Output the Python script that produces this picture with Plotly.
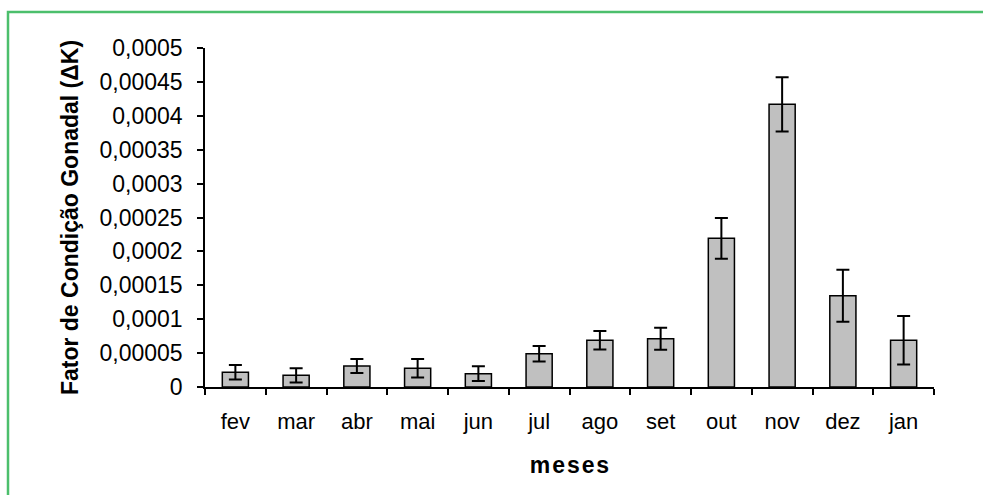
import plotly.graph_objects as go

# Monthly gonadal condition factor (mean ± error)
months = ["fev", "mar", "abr", "mai", "jun", "jul", "ago", "set", "out", "nov", "dez", "jan"]
delta_k = [0.0000217, 0.0000172, 0.000031, 0.0000276, 0.0000196, 0.0000491,
           0.0000689, 0.0000712, 0.0002193, 0.000417, 0.0001347, 0.0000689]
errors = [0.0000107, 0.0000104, 0.0000103, 0.0000137, 0.0000109, 0.0000114,
          0.0000137, 0.0000163, 0.00003, 0.00004, 0.0000383, 0.0000358]
y_ticks = [0, 0.00005, 0.0001, 0.00015, 0.0002, 0.00025, 0.0003, 0.00035, 0.0004, 0.00045, 0.0005]
y_tick_text = ["0", "0,00005", "0,0001", "0,00015", "0,0002", "0,00025", "0,0003",
               "0,00035", "0,0004", "0,00045", "0,0005"]

W, H = 983, 495
L, R, T, B = 205, 49, 48, 108
pw, ph = W - L - R, H - T - B

def px(x):
    return (x - L) / pw

def py(y):
    return (H - B - y) / ph

font = "Liberation Sans, Arial, sans-serif"

fig = go.Figure(go.Bar(
    x=months, y=delta_k,
    marker=dict(color="#c0c0c0", line=dict(color="black", width=1.5)),
    width=0.43,
    error_y=dict(type="data", array=errors, visible=True, color="black",
                 thickness=2, width=6.5),
))

fig.update_layout(
    width=W, height=H,
    margin=dict(l=L, r=R, t=T, b=B),
    paper_bgcolor="white", plot_bgcolor="white",
    showlegend=False,
    font=dict(family=font, size=22, color="black"),
    xaxis=dict(
        showline=True, linecolor="black", linewidth=1.5,
        ticks="outside", ticklen=6, tickwidth=1.5, tickcolor="black",
        tickson="boundaries", ticklabelstandoff=14,
        tickfont=dict(size=22),
        showgrid=False, zeroline=False,
        title=dict(text="<b>m e s e s</b>".replace(" ", "\u200a"), font=dict(size=23), standoff=24),
    ),
    yaxis=dict(
        range=[0, 0.0005],
        showline=True, linecolor="black", linewidth=1.5,
        ticks="outside", ticklen=6, tickwidth=1.5, tickcolor="black",
        tickvals=y_ticks, ticktext=y_tick_text, ticklabelstandoff=10,
        tickfont=dict(size=23),
        showgrid=False, zeroline=False,
        title=dict(text="<b>Fator de Condição Gonadal (ΔK)</b>", font=dict(size=23), standoff=14),
    ),
    shapes=[dict(
        type="rect", xref="paper", yref="paper",
        x0=px(8), x1=px(W + 20), y0=py(H + 20), y1=py(12),
        line=dict(color="#4cbf6c", width=2.5), fillcolor="rgba(0,0,0,0)", layer="below",
    )],
)

fig.write_html("out.html")
